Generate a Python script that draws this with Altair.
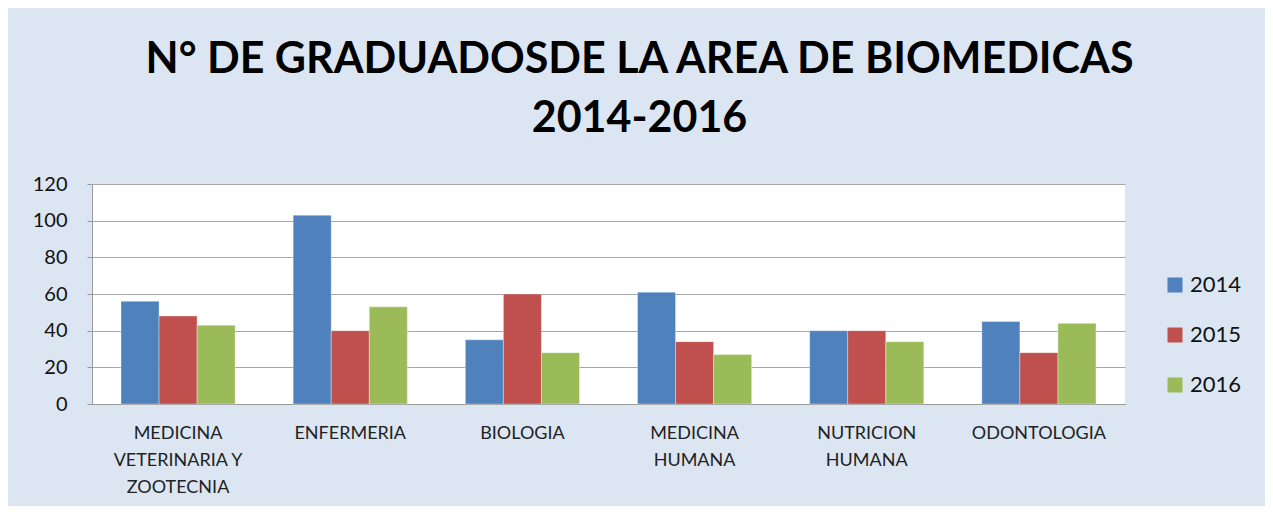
import altair as alt
import pandas as pd

categories = [
    "MEDICINA\nVETERINARIA Y\nZOOTECNIA",
    "ENFERMERIA",
    "BIOLOGIA",
    "MEDICINA\nHUMANA",
    "NUTRICION\nHUMANA",
    "ODONTOLOGIA",
]
years = ["2014", "2015", "2016"]
values_2014 = [56, 103, 35, 61, 40, 45]
values_2015 = [48, 40, 60, 34, 40, 28]
values_2016 = [43, 53, 28, 27, 34, 44]
colors = ["#4F81BD", "#C0504D", "#9BBB59"]

rows = []
for series, yr in zip([values_2014, values_2015, values_2016], years):
    for c, v in zip(categories, series):
        rows.append({"carrera": c, "anio": yr, "graduados": v})
df = pd.DataFrame(rows)

BG = "#DCE6F2"
FONT = "Lato"

chart = alt.Chart(df).mark_bar(stroke="#FFFFFF", strokeOpacity=0.35, strokeWidth=1).encode(
    x=alt.X(
        "carrera:N",
        sort=categories,
        title=None,
        scale=alt.Scale(paddingInner=0.337, paddingOuter=0.1685),
        axis=alt.Axis(
            labelAngle=0,
            labelExpr="split(datum.label, '\\n')",
            labelFontSize=18,
            labelLineHeight=27,
            labelFont=FONT,
            labelColor="#222222",
            labelPadding=20,
            labelBaseline="top",
            ticks=False,
            domainColor="#9A9A9A",
            domainWidth=1,
            grid=False,
        ),
    ),
    xOffset=alt.XOffset("anio:N", sort=years, scale=alt.Scale(paddingInner=0, paddingOuter=0)),
    y=alt.Y(
        "graduados:Q",
        title=None,
        scale=alt.Scale(domain=[0, 120], nice=False),
        axis=alt.Axis(
            values=[0, 20, 40, 60, 80, 100, 120],
            labelFontSize=20,
            labelFont=FONT,
            labelColor="#111111",
            labelPadding=20,
            tickSize=5,
            tickColor="#9A9A9A",
            domainColor="#9A9A9A",
            gridColor="#A6A6A6",
            gridWidth=1.2,
        ),
    ),
    color=alt.Color(
        "anio:N",
        sort=years,
        scale=alt.Scale(domain=years, range=colors),
        legend=alt.Legend(
            title=None,
            orient="none",
            legendX=1072,
            legendY=90,
            symbolType="square",
            symbolSize=225,
            symbolStrokeWidth=0,
            labelFontSize=22,
            labelFont=FONT,
            labelColor="#111111",
            labelOffset=4,
            rowPadding=28,
        ),
    ),
).properties(
    width=1033,
    height=220,
    padding={"left": 84, "top": 176, "right": 140, "bottom": 102},
    autosize=alt.AutoSizeParams(type="none"),
    background=BG,
    title=alt.TitleParams(
        text=["N° DE GRADUADOSDE LA AREA DE BIOMEDICAS", "2014-2016"],
        font=FONT,
        fontSize=43,
        fontWeight="bold",
        color="#000000",
        anchor="middle",
        dx=31,
        offset=33,
        lineHeight=59,
    ),
).configure_view(
    fill="#FFFFFF",
    stroke=None,
)

chart.save("out.html", embed_options={"renderer": "svg", "actions": False})
